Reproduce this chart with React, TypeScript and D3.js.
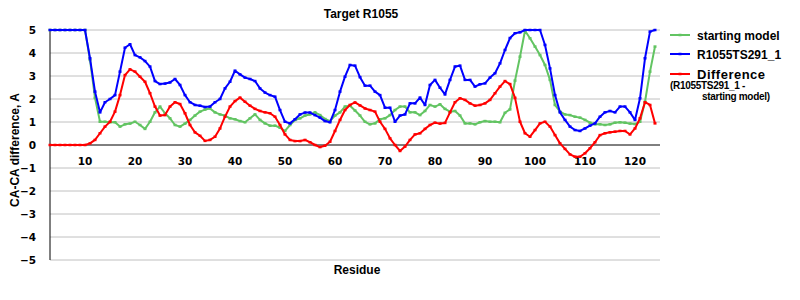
import React from "react";
import * as d3 from "d3";

const residues: number[] = d3.range(3, 125);

const startingModel: number[] = [
  5, 5, 5, 5, 5, 5, 5, 5, 3.7, 2.05,
  1.01, 1.01, 0.99, 0.99, 0.8, 0.9, 0.93, 1.01, 0.87, 0.7,
  1.01, 1.42, 1.67, 1.38, 1.16, 0.87, 0.8, 0.93, 1.09, 1.28,
  1.45, 1.54, 1.59, 1.42, 1.33, 1.28, 1.16, 1.12, 1.04, 0.99,
  1.16, 1.33, 1.09, 0.94, 0.84, 0.84, 0.75, 0.61, 0.87, 1.09,
  1.16, 1.28, 1.33, 1.42, 1.3, 1.13, 1.04, 1.28, 1.42, 1.67,
  1.71, 1.5, 1.28, 1.01, 0.9, 0.94, 1.12, 1.16, 1.3, 1.52,
  1.67, 1.67, 1.42, 1.42, 1.3, 1.48, 1.74, 1.67, 1.77, 1.57,
  1.45, 1.48, 1.28, 0.94, 0.94, 0.9, 0.99, 1.04, 1.01, 1.01,
  0.99, 1.4, 1.55, 2.8, 3.84, 4.97, 4.64, 4.28, 3.91, 3.48,
  2.83, 1.74, 1.45, 1.33, 1.3, 1.23, 1.19, 1.09, 0.97, 0.9,
  0.9, 0.87, 0.9, 0.97, 0.99, 0.97, 0.93, 0.91, 1.01, 1.88,
  3.19, 4.28,
];

const ts291: number[] = [
  5, 5, 5, 5, 5, 5, 5, 5, 3.77, 2.32,
  1.42, 1.86, 2.0, 2.17, 3.19, 4.23, 4.38, 3.91, 3.81, 3.65,
  3.41, 2.78, 2.65, 2.67, 2.72, 2.87, 2.61, 2.17, 1.86, 1.74,
  1.71, 1.65, 1.67, 1.86, 2.0, 2.46, 2.75, 3.23, 3.07, 2.93,
  2.87, 2.78, 2.46, 2.28, 2.17, 2.1, 1.52, 1.01, 0.94, 1.12,
  1.33, 1.41, 1.41, 1.3, 1.19, 1.04, 0.99, 1.52, 2.32, 2.97,
  3.48, 3.45, 2.95, 2.58, 2.58, 2.32, 2.17, 1.62, 1.62, 1.01,
  1.28, 1.33, 1.81, 1.81, 2.06, 1.74, 2.61, 2.83, 2.49, 2.2,
  2.83, 3.41, 3.45, 2.83, 2.83, 2.54, 2.64, 2.68, 2.93, 3.12,
  3.55, 4.13, 4.65, 4.86, 4.9, 5, 5, 5, 5, 4.35,
  3.33, 2.17, 1.42, 1.09, 0.8, 0.65, 0.61, 0.72, 0.84, 0.94,
  1.23, 1.42, 1.48, 1.42, 1.67, 1.67, 1.42, 1.09, 2.03, 3.77,
  4.93, 5.0,
];

const difference: number[] = [
  0, 0, 0, 0, 0, 0, 0, 0, 0.07, 0.22,
  0.51, 0.8, 1.01, 1.45, 2.17, 3.04, 3.29, 3.19, 2.97, 2.75,
  2.25, 1.67, 1.28, 1.3, 1.67, 1.86, 1.78, 1.38, 0.87, 0.55,
  0.4, 0.18, 0.22, 0.36, 0.72, 1.23, 1.67, 1.91, 2.06, 1.88,
  1.71, 1.57, 1.48, 1.42, 1.38, 1.23, 0.87, 0.46, 0.22, 0.17,
  0.17, 0.22, 0.12, 0, -0.09, -0.03, 0.14, 0.61, 1.09, 1.52,
  1.74, 1.85, 1.72, 1.59, 1.52, 1.45, 1.01, 0.7, 0.29, 0,
  -0.26, -0.07, 0.22, 0.46, 0.51, 0.7, 0.87, 0.97, 0.93, 0.96,
  1.42, 1.86, 2.03, 1.96, 1.81, 1.71, 1.74, 1.81, 1.96, 2.25,
  2.54, 2.78, 2.65, 2.05, 1.01, 0.51, 0.36, 0.65, 0.94, 1.01,
  0.8, 0.43, 0.07, -0.17, -0.41, -0.51, -0.51, -0.36, -0.14, 0.12,
  0.43, 0.51, 0.55, 0.58, 0.61, 0.61, 0.46, 0.72, 1.16, 1.86,
  1.74, 0.94,
];

const xTicks: number[] = [10, 20, 30, 40, 50, 60, 70, 80, 90, 100, 110, 120];
const yTicks: number[] = [-5, -4, -3, -2, -1, 0, 1, 2, 3, 4, 5];

const seriesNames = ["starting model", "R1055TS291_1", "Difference"];
const seriesColors = ["#62c462", "#0000ff", "#ff0000"];

export default function App() {
  const W = 800, H = 300;
  const left = 50, right = 660, top = 30, bottom = 260;
  const x = d3.scaleLinear().domain([3, 125]).range([left, right]);
  const y = d3.scaleLinear().domain([-5, 5]).range([bottom, top]);
  const line = d3
    .line<number>()
    .x((_, i) => x(residues[i]))
    .y((d) => y(d));

  const series = [startingModel, ts291, difference];
  const tickFont = "'DejaVu Sans', sans-serif";
  const labelFont = "'Liberation Sans', Arial, sans-serif";

  return (
    <svg
      width={W}
      height={H}
      style={{ position: "absolute", left: 0, top: 0, background: "#fff" }}
    >
      <rect x={0} y={0} width={W} height={H} fill="#fff" />
      {yTicks
        .filter((t) => t !== 0)
        .map((t) => (
          <line
            key={"g" + t}
            x1={left}
            x2={right}
            y1={y(t)}
            y2={y(t)}
            stroke="#c0c0c0"
            strokeWidth={1}
          />
        ))}
      <line x1={left} x2={right} y1={y(0)} y2={y(0)} stroke="#000" strokeWidth={1} />
      <line x1={left} x2={left} y1={top} y2={bottom} stroke="#000" strokeWidth={1} />

      {yTicks.map((t) => (
        <text
          key={"yt" + t}
          x={36}
          y={y(t)}
          dy="0.35em"
          textAnchor="end"
          fontFamily={tickFont}
          fontWeight="bold"
          fontSize={10.5}
          fill="#000"
        >
          {t < 0 ? "\u2212" + Math.abs(t) : String(t)}
        </text>
      ))}
      {xTicks.map((t) => (
        <text
          key={"xt" + t}
          x={x(t)}
          y={y(0) + 20}
          textAnchor="middle"
          fontFamily={tickFont}
          fontWeight="bold"
          fontSize={10.5}
          fill="#000"
        >
          {t}
        </text>
      ))}

      {series.map((s, i) => (
        <g key={"s" + i}>
          <path
            d={line(s) || ""}
            fill="none"
            stroke={seriesColors[i]}
            strokeWidth={2}
            strokeLinejoin="round"
          />
          {s.map((v, j) => (
            <line
              key={j}
              x1={x(residues[j]) - 1.5}
              x2={x(residues[j]) + 1.5}
              y1={y(v)}
              y2={y(v)}
              stroke={seriesColors[i]}
              strokeWidth={2.5}
            />
          ))}
        </g>
      ))}

      <text
        x={361}
        y={18}
        textAnchor="middle"
        fontFamily={labelFont}
        fontWeight="bold"
        fontSize={12}
        fill="#000"
      >
        Target R1055
      </text>
      <text
        x={357}
        y={274}
        textAnchor="middle"
        fontFamily={labelFont}
        fontWeight="bold"
        fontSize={12}
        fill="#000"
      >
        Residue
      </text>
      <text
        transform={`translate(19,${y(0) + 5}) rotate(-90)`}
        textAnchor="middle"
        fontFamily={labelFont}
        fontWeight="bold"
        fontSize={12}
        fill="#000"
      >
        CA-CA difference, A
      </text>

      {seriesNames.map((n, i) => {
        const ly = [35, 54, 74][i];
        return (
          <g key={"l" + i}>
            <line
              x1={670}
              x2={690}
              y1={ly}
              y2={ly}
              stroke={seriesColors[i]}
              strokeWidth={2}
            />
            <line
              x1={678.5}
              x2={681.5}
              y1={ly}
              y2={ly}
              stroke={seriesColors[i]}
              strokeWidth={2.5}
            />
            <text
              x={697}
              y={ly + 4.5}
              fontFamily={labelFont}
              fontWeight="bold"
              fontSize={i === 2 ? 13 : 12}
              letterSpacing={i === 2 ? 0.5 : 0}
              fill="#000"
            >
              {n}
            </text>
          </g>
        );
      })}
      <text
        x={670}
        y={89}
        fontFamily={labelFont}
        fontWeight="bold"
        fontSize={10}
        letterSpacing={-0.3}
        fill="#000"
      >
        (R1055TS291_1 -
      </text>
      <text
        x={702}
        y={99.5}
        fontFamily={labelFont}
        fontWeight="bold"
        fontSize={10}
        letterSpacing={-0.3}
        fill="#000"
      >
        starting model)
      </text>
    </svg>
  );
}
